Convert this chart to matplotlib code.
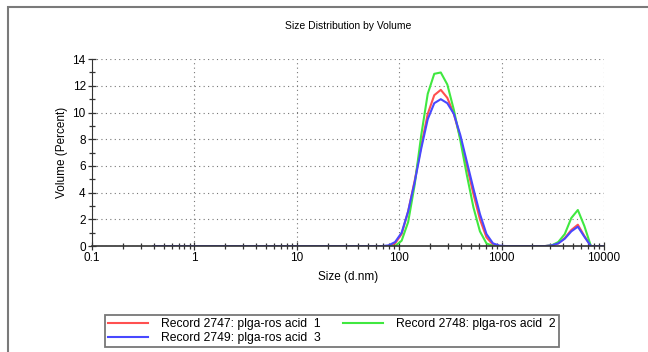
import numpy as np
import matplotlib.pyplot as plt
from matplotlib.patches import Rectangle
from matplotlib.ticker import FixedLocator, NullFormatter

plt.rcParams['font.family'] = ['Liberation Sans', 'DejaVu Sans']

# Tamaños de clase (d.nm)
sizes = [0.4, 0.4632, 0.5365, 0.6213, 0.7195, 0.8332, 0.9649, 1.117, 1.294, 1.499,
         1.736, 2.01, 2.328, 2.696, 3.122, 3.615, 4.187, 4.849, 5.615, 6.503,
         7.531, 8.721, 10.1, 11.7, 13.54, 15.69, 18.17, 21.04, 24.36, 28.21,
         32.67, 37.84, 43.82, 50.75, 58.77, 68.06, 78.82, 91.28, 105.7, 122.4,
         141.8, 164.2, 190.1, 220.2, 255.0, 295.3, 342.0, 396.1, 458.7, 531.2,
         615.1, 712.4, 825.0, 955.4, 1106, 1281, 1484, 1718, 1990, 2305,
         2669, 3091, 3580, 4145, 4801, 5560, 6439, 7456, 8635, 10000]

zeros = [0.0] * 36

# Volumen (%) por registro
rec_2747 = zeros + [0.0, 0.2, 0.9, 2.6, 4.9, 7.5, 9.9, 11.3, 11.7, 11.1,
                    9.9, 8.1, 6.0, 3.9, 2.0, 0.65, 0.1, 0.0, 0.0, 0.0,
                    0.0, 0.0, 0.0, 0.0, 0.0, 0.05, 0.2, 0.6, 1.2, 1.6,
                    0.75, 0.0, 0.0, 0.0]
rec_2748 = zeros + [0.0, 0.0, 0.4, 1.8, 4.6, 8.3, 11.4, 12.9, 13.0, 12.1,
                    10.2, 7.9, 5.3, 2.9, 1.1, 0.2, 0.0, 0.0, 0.0, 0.0,
                    0.0, 0.0, 0.0, 0.0, 0.0, 0.05, 0.3, 0.9, 2.1, 2.7,
                    1.5, 0.0, 0.0, 0.0]
rec_2749 = zeros + [0.05, 0.3, 1.0, 2.6, 4.8, 7.3, 9.5, 10.7, 11.0, 10.7,
                    9.9, 8.3, 6.3, 4.3, 2.4, 0.9, 0.2, 0.03, 0.0, 0.0,
                    0.0, 0.0, 0.0, 0.0, 0.0, 0.05, 0.2, 0.55, 1.1, 1.45,
                    0.7, 0.0, 0.0, 0.0]

labels = ['Record 2747: plga-ros acid  1',
          'Record 2748: plga-ros acid  2',
          'Record 2749: plga-ros acid  3']
x_ticks = [0.1, 1, 10, 100, 1000, 10000]
x_ticklabels = ['0.1', '1', '10', '100', '1000', '10000']
y_ticks = [0, 2, 4, 6, 8, 10, 12, 14]

fig = plt.figure(figsize=(6.48, 3.52), dpi=100)
ax = fig.add_axes([0.142, 0.301, 0.790, 0.531])

# Marco exterior
fig.add_artist(Rectangle((8 / 648, -0.2), 1.2, 1.2 - 7 / 352,
                         transform=fig.transFigure, fill=False,
                         edgecolor='#7a7a7a', linewidth=1.5))

l1, = ax.plot(sizes, rec_2747, color='#ff5050', lw=1.5)
l2, = ax.plot(sizes, rec_2748, color='#40e840', lw=1.5)
l3, = ax.plot(sizes, rec_2749, color='#4848ff', lw=1.5)

ax.set_xscale('log')
ax.set_xlim(0.1, 10000)
ax.set_ylim(0, 14)
ax.set_xticks(x_ticks)
ax.set_xticklabels(x_ticklabels)
ax.xaxis.set_minor_locator(FixedLocator(
    [m * 10.0 ** e for e in range(-1, 4) for m in range(2, 10)]))
ax.xaxis.set_minor_formatter(NullFormatter())
ax.set_yticks(y_ticks)
ax.yaxis.set_minor_locator(FixedLocator([1, 3, 5, 7, 9, 11, 13]))

ax.tick_params(which='major', direction='inout', length=6, width=0.9,
               color='#333333', labelsize=8.5, pad=1.5)
ax.tick_params(which='minor', direction='inout', length=4, width=0.9,
               color='#333333')

ax.grid(True, which='major', color='#777777', linestyle=(0, (1, 3)), lw=0.8)
ax.spines['top'].set_visible(False)
ax.spines['right'].set_visible(False)
ax.spines['left'].set_color('#333333')
ax.spines['bottom'].set_color('#333333')
ax.spines['bottom'].set_linewidth(1.2)

ax.set_title('Size Distribution by Volume', fontsize=7.5, pad=22)
ax.set_xlabel('Size (d.nm)', fontsize=8.5, labelpad=5)
ax.set_ylabel('Volume (Percent)', fontsize=8.5, labelpad=3)

leg = fig.legend([l1, l3, l2], [labels[0], labels[2], labels[1]],
                 ncol=2, loc='upper left',
                 bbox_to_anchor=(105 / 648, 1 - 315 / 352, 454 / 648, 0.0),
                 mode='expand', borderaxespad=0, fontsize=8.7,
                 handlelength=3.3, handletextpad=1.1, labelspacing=0.2,
                 borderpad=0.25, fancybox=False, frameon=True)
leg.get_frame().set_edgecolor('#555555')
leg.get_frame().set_linewidth(1.3)

fig.savefig('out.png', dpi=100)
